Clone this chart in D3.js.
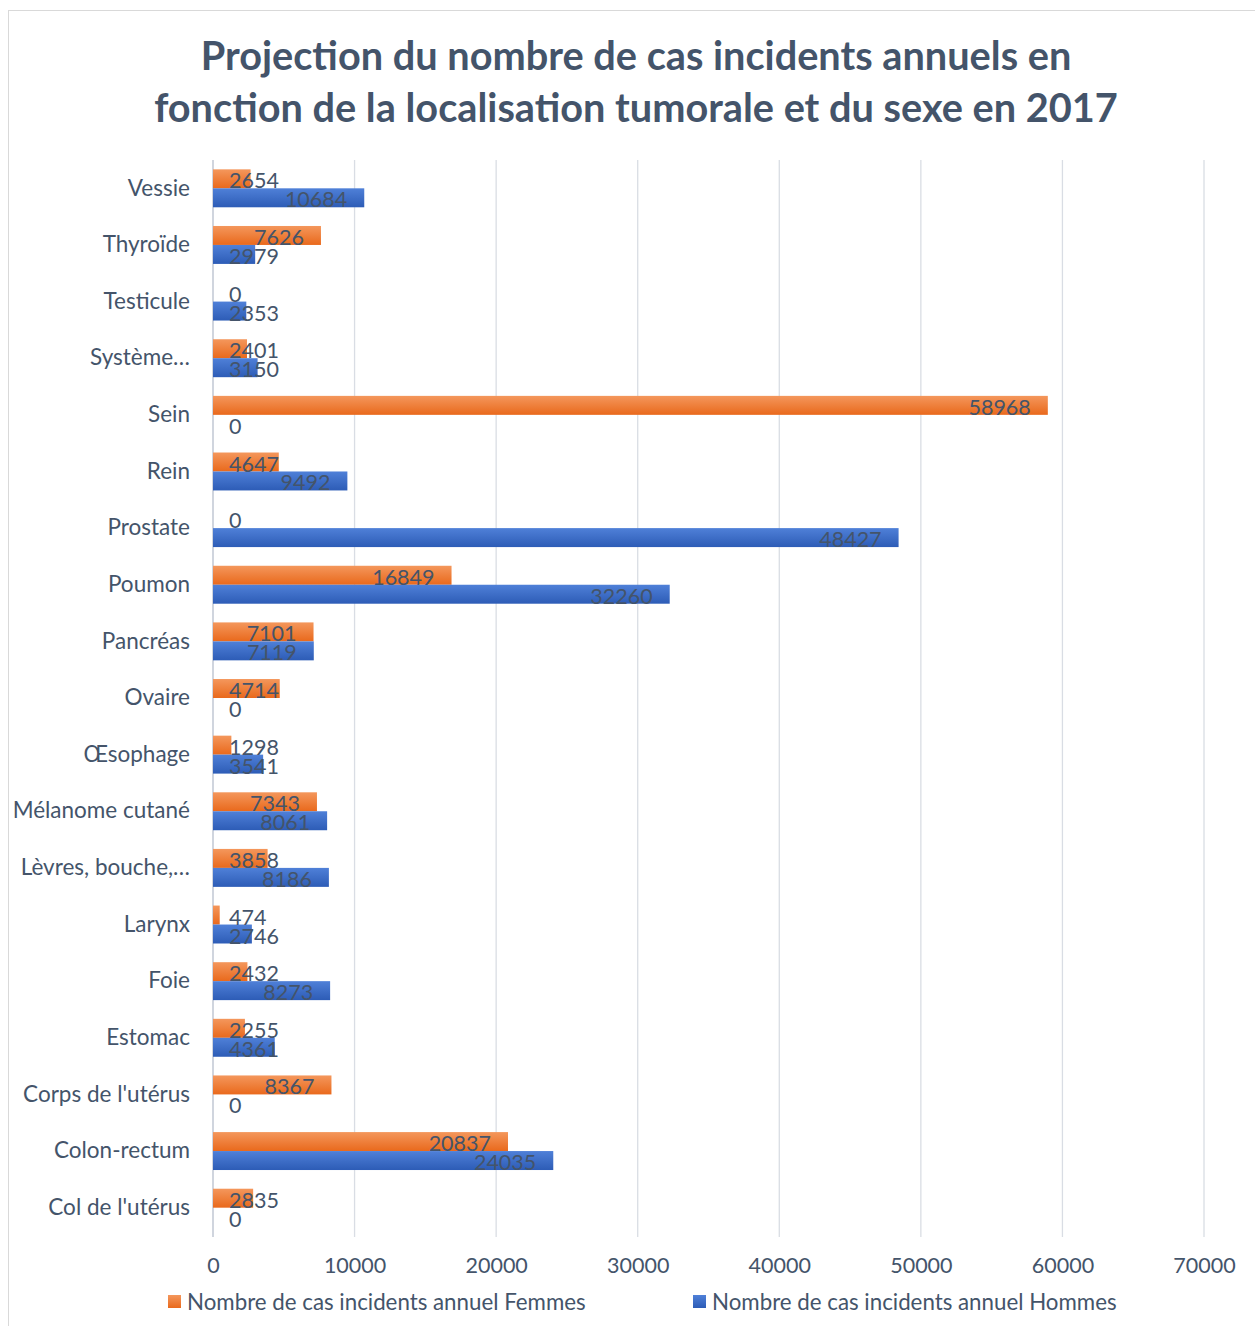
<!DOCTYPE html>
<html>
<head>
<meta charset="utf-8">
<script src="https://cdnjs.cloudflare.com/ajax/libs/d3/7.8.5/d3.min.js"></script>
<style>
  body { margin: 0; background: #fff; }
  svg text { font-family: Lato, "Open Sans", sans-serif; }
</style>
</head>
<body>
<div id="figure"></div>
<script>
// categories, top to bottom as drawn
var categories = ["Vessie", "Thyroïde", "Testicule", "Système…", "Sein", "Rein", "Prostate",
  "Poumon", "Pancréas", "Ovaire", "Œsophage", "Mélanome cutané", "Lèvres, bouche,…",
  "Larynx", "Foie", "Estomac", "Corps de l'utérus", "Colon-rectum", "Col de l'utérus"];
var femmes = [2654, 7626, 0, 2401, 58968, 4647, 0, 16849, 7101, 4714, 1298, 7343, 3858, 474, 2432, 2255, 8367, 20837, 2835];
var hommes = [10684, 2979, 2353, 3150, 0, 9492, 48427, 32260, 7119, 0, 3541, 8061, 8186, 2746, 8273, 4361, 0, 24035, 0];
var seriesNames = ["Nombre de cas incidents annuel Femmes", "Nombre de cas incidents annuel Hommes"];
var xTicks = [0, 10000, 20000, 30000, 40000, 50000, 60000, 70000];

var W = 1255, H = 1326;
var textCol = "#44546a";
var fs = 21.5;

// set the dimensions and margins of the graph
const margin = {top: 160, right: 51, bottom: 91, left: 213},
  width = W - margin.left - margin.right,
  height = H - margin.top - margin.bottom;

const root = d3.select("#figure").append("svg")
  .attr("width", W).attr("height", H);

// outer chart border
root.append("rect")
  .attr("x", 8.5).attr("y", 10.5).attr("width", W - 8).attr("height", H - 9)
  .attr("fill", "none").attr("stroke", "#d9d9d9");

// gradients for bars
const defs = root.append("defs");
function grad(id, c1, c2) {
  const g = defs.append("linearGradient").attr("id", id)
    .attr("x1", 0).attr("y1", 0).attr("x2", 0).attr("y2", 1);
  g.append("stop").attr("offset", "0%").attr("stop-color", c1);
  g.append("stop").attr("offset", "100%").attr("stop-color", c2);
}
grad("gF", "#f4975c", "#e9691c");
grad("gH", "#4f80d8", "#2d5cb6");

// title
root.append("text")
  .attr("x", 636).attr("y", 70)
  .attr("text-anchor", "middle").attr("font-size", 39.7).attr("font-weight", "bold")
  .attr("fill", textCol)
  .text("Projection du nombre de cas incidents annuels en");
root.append("text")
  .attr("x", 636).attr("y", 122)
  .attr("text-anchor", "middle").attr("font-size", 39.7).attr("font-weight", "bold")
  .attr("fill", textCol)
  .text("fonction de la localisation tumorale et du sexe en 2017");

const svg = root.append("g")
  .attr("transform", `translate(${margin.left},${margin.top})`);

const x = d3.scaleLinear().domain([0, 70000]).range([0, 991]);
const y = d3.scaleBand().domain(categories).range([0, 1076]).paddingInner(0.33).paddingOuter(0.165);
const sub = d3.scaleBand().domain([0, 1]).range([0, y.bandwidth()]);

// gridlines
svg.append("g").selectAll("line").data(xTicks).join("line")
  .attr("x1", d => x(d)).attr("x2", d => x(d))
  .attr("y1", 0).attr("y2", 1077)
  .attr("stroke", d => d === 0 ? "#d0d5de" : "#d9dde4")
  .attr("stroke-width", d => d === 0 ? 2 : 1.3);

// x axis labels
const xAxis = d3.axisBottom(x).tickValues(xTicks).tickFormat(d3.format("d")).tickSize(0).tickPadding(0);
const gx = svg.append("g").attr("transform", "translate(0,1096)").call(xAxis);
gx.select(".domain").remove();
gx.selectAll("text").attr("font-size", fs).attr("fill", textCol)
  .attr("font-family", "Lato, sans-serif").attr("dy", "0.78em");

// category labels
const yAxis = d3.axisLeft(y).tickSize(0).tickPadding(23);
const gy = svg.append("g").call(yAxis);
gy.select(".domain").remove();
gy.selectAll("text").attr("font-size", 22.5).attr("fill", textCol)
  .attr("font-family", "Lato, sans-serif");

// bars
var rows = categories.map((c, i) => ({cat: c, vals: [femmes[i], hommes[i]]}));
const groups = svg.append("g").selectAll("g").data(rows).join("g")
  .attr("transform", d => `translate(0,${y(d.cat)})`);

groups.selectAll("rect").data(d => d.vals).join("rect")
  .attr("x", 0)
  .attr("y", (d, i) => sub(i))
  .attr("width", d => x(d))
  .attr("height", sub.bandwidth())
  .attr("fill", (d, i) => i === 0 ? "url(#gF)" : "url(#gH)");

// data labels (inside end, pushed right when bar is short)
groups.selectAll("text").data(d => d.vals).join("text")
  .attr("y", (d, i) => sub(i) + sub.bandwidth() / 2 + 2)
  .attr("dy", "0.35em")
  .attr("font-size", fs).attr("fill", textCol)
  .text(d => d)
  .attr("x", function(d) {
    const w = this.getComputedTextLength();
    return Math.max(16, x(d) - 17 - w);
  });

// legend
const legend = root.append("g");
[[168, "url(#gF)"], [693, "url(#gH)"]].forEach(function(p, i) {
  legend.append("rect").attr("x", p[0]).attr("y", 1295).attr("width", 13).attr("height", 13).attr("fill", p[1]);
  legend.append("text").attr("x", p[0] + 19).attr("y", 1302).attr("dy", "0.35em")
    .attr("font-size", 22.3).attr("fill", textCol).text(seriesNames[i]);
});
</script>
</body>
</html>
